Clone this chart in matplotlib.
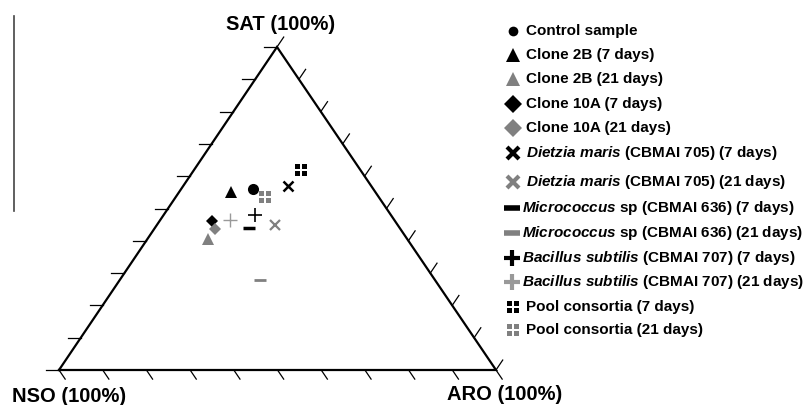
import numpy as np
import matplotlib.pyplot as plt
from matplotlib.path import Path

plt.rcParams['font.family'] = 'Liberation Sans'
plt.rcParams['mathtext.fontset'] = 'custom'
plt.rcParams['mathtext.it'] = 'Liberation Sans:italic:bold'
plt.rcParams['mathtext.rm'] = 'Liberation Sans:bold'
plt.rcParams['mathtext.bf'] = 'Liberation Sans:bold'

# composition (%)
labels = [
    "Control sample",
    "Clone 2B (7 days)",
    "Clone 2B (21 days)",
    "Clone 10A (7 days)",
    "Clone 10A (21 days)",
    r"$\mathit{Dietzia\ maris}$ (CBMAI 705) (7 days)",
    r"$\mathit{Dietzia\ maris}$ (CBMAI 705) (21 days)",
    r"$\mathit{Micrococcus}$ sp (CBMAI 636) (7 days)",
    r"$\mathit{Micrococcus}$ sp (CBMAI 636) (21 days)",
    r"$\mathit{Bacillus\ subtilis}$ (CBMAI 707) (7 days)",
    r"$\mathit{Bacillus\ subtilis}$ (CBMAI 707) (21 days)",
    "Pool consortia (7 days)",
    "Pool consortia (21 days)",
]
sat = [56, 55, 40.5, 46, 43.5, 57, 45, 44, 28, 48, 46.5, 62, 53.5]
aro = [16.5, 12, 14, 12, 14, 24, 27, 21.5, 32, 21, 16, 24.5, 20.5]
nso = [27.5, 33, 45.5, 42, 42.5, 19, 28, 34.5, 40, 31, 37.5, 13.5, 26]

# 2x2 squares marker
sq = []
codes = []
for cx, cy in [(-0.5, -0.5), (0.5, -0.5), (-0.5, 0.5), (0.5, 0.5)]:
    h = 0.4
    sq += [(cx - h, cy - h), (cx + h, cy - h), (cx + h, cy + h), (cx - h, cy + h), (0, 0)]
    codes += [Path.MOVETO, Path.LINETO, Path.LINETO, Path.LINETO, Path.CLOSEPOLY]
pool = Path(sq, codes)

black = 'black'
gray = '#808080'
# marker, colour, size in plot, size in legend, edge width (plot, legend)
styles = [
    ('o', black, 8, 7, 0, 0),
    ('^', black, 8, 10, 0, 0),
    ('^', gray, 8, 10, 0, 0),
    ('D', black, 6, 9, 0, 0),
    ('D', gray, 6, 9, 0, 0),
    ('x', black, 7, 9, 1.8, 3),
    ('x', gray, 7, 9, 1.6, 3),
    ('_', black, 9, 12, 2.5, 4),
    ('_', gray, 9, 12, 2.0, 4),
    ('+', black, 10, 12, 1.2, 3),
    ('+', '#999999', 10, 12, 1.0, 3),
    (pool, black, 9, 8, 0, 0),
    (pool, gray, 9, 8, 0, 0),
]

fig = plt.figure(figsize=(8.11, 4.05), dpi=100)
ax = fig.add_axes([0, 0, 1, 1])
ax.set_xlim(0, 811)
ax.set_ylim(405, 0)
ax.axis('off')

L = np.array([59, 370])
R = np.array([496, 370])
T = np.array([277, 47])


def tern(s, a, n):
    s, a, n = np.asarray(s) / 100, np.asarray(a) / 100, np.asarray(n) / 100
    x = n * L[0] + a * R[0] + s * T[0]
    y = n * L[1] + a * R[1] + s * T[1]
    return x, y


# triangle
ax.plot([L[0], T[0], R[0], L[0]], [L[1], T[1], R[1], L[1]], color='black', lw=1.6,
        solid_joinstyle='miter')

# ticks
f = np.linspace(0, 1, 11)
dR = (R - T) / np.linalg.norm(R - T)
dU = (T - L) / np.linalg.norm(T - L)
for t in f:
    p = L + t * (T - L)
    ax.plot([p[0], p[0] - 13], [p[1], p[1]], color='black', lw=0.9)
    p = L + t * (R - L)
    ax.plot([p[0], p[0] + 11 * dR[0]], [p[1], p[1] + 11 * dR[1]], color='black', lw=0.9)
    p = R + t * (T - R)
    ax.plot([p[0], p[0] + 12 * dU[0]], [p[1], p[1] + 12 * dU[1]], color='black', lw=0.9)

ax.plot([14, 14], [16, 211], color='#444444', lw=1.2)

ax.text(281, 25, "SAT (100%)", fontsize=14.5, fontweight='bold', ha='center', va='center')
ax.text(12, 396, "NSO (100%)", fontsize=14.5, fontweight='bold', ha='left', va='center')
ax.text(447, 395, "ARO (100%)", fontsize=14.5, fontweight='bold', ha='left', va='center')

# data points
xs, ys = tern(sat, aro, nso)
for i, st in enumerate(styles):
    m, c, ms, _, mew, _ = st
    ax.plot(xs[i], ys[i], marker=m, color=c, markersize=ms, markeredgewidth=mew,
            linestyle='none')

# legend
rows = [31, 55, 79, 104, 128, 153, 182, 208, 233, 258, 282, 307, 330]
for i, st in enumerate(styles):
    m, c, _, ms, _, mew = st
    mx = 512 if 7 <= i <= 10 else 513
    tx = 522 if 7 <= i <= 10 else 526
    ax.plot(mx, rows[i], marker=m, color=c, markersize=ms, markeredgewidth=mew,
            linestyle='none')
    ax.text(tx, rows[i], labels[i], fontsize=11, fontweight='bold', ha='left', va='center')

fig.savefig("out.png", dpi=100)
